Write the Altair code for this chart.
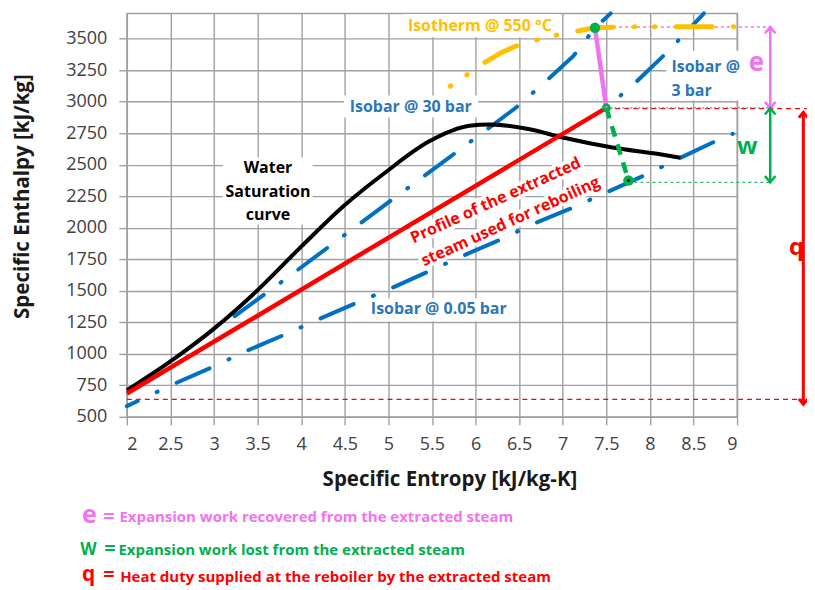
import altair as alt
import pandas as pd

# ---------------- data ----------------
x_ticks = [2, 2.5, 3, 3.5, 4, 4.5, 5, 5.5, 6, 6.5, 7, 7.5, 8, 8.5, 9]
y_ticks = [500, 750, 1000, 1250, 1500, 1750, 2000, 2250, 2500, 2750, 3000, 3250, 3500]

# water saturation curve
sat_s = [2.0, 2.5, 3.0, 3.5, 4.0, 4.5, 4.95, 5.47, 5.93, 6.16, 6.62, 7.0, 7.57, 8.15, 8.35]
sat_h = [711, 940, 1200, 1505, 1850, 2180, 2430, 2685, 2808, 2818, 2781, 2715, 2636, 2578, 2555]

# profile of the extracted steam used for reboiling
prof_s = [2.0, 7.5]
prof_h = [685, 2950]

# isobars
iso30_s = [3.2, 3.9, 4.9, 5.7, 6.45, 6.77, 7.12, 7.37, 7.55]
iso30_h = [1280, 1634, 2150, 2558, 2945, 3138, 3360, 3585, 3700]

iso3_s = [7.5, 7.84, 8.18, 8.62]
iso3_h = [2950, 3155, 3380, 3700]

iso005_s = [2.0, 2.55, 2.97, 3.37, 3.79, 4.19, 4.61, 5.02, 5.44, 5.86, 6.26, 6.66, 7.08, 7.5, 7.92, 8.32, 8.72, 8.95]
iso005_h = [585, 764, 891, 1022, 1146, 1271, 1397, 1516, 1647, 1779, 1898, 2030, 2149, 2280, 2410, 2544, 2676, 2745]

# isotherm 550 C
iso550_s = [5.71, 5.91, 6.10, 6.30, 6.51, 6.73, 6.96, 7.17, 7.37, 7.63, 7.84, 8.09, 8.32, 8.76, 9.0]
iso550_h = [3123, 3216, 3309, 3390, 3454, 3493, 3533, 3560, 3585, 3592, 3593, 3594, 3594, 3594, 3594]

# expansion recovered (e) and lost (w)
exp_s = [7.37, 7.5]
exp_h = [3585, 2950]
lost_s = [7.5, 7.754]
lost_h = [2950, 2375]

# points
pt_top = (7.37, 3585)
pt_mid = (7.5, 2950)
pt_bot = (7.754, 2375)

# reference levels
h_e_top = 3592
h_extr = 2948
h_w_bot = 2360
h_q_bot = 638
s_arrow_ew = 9.38
s_arrow_q = 9.76

# ---------------- styling ----------------
FONT = "Open Sans"
GRID = "#A0A0A0"
BLUE = "#0070C0"
BLUE_TXT = "#2E75B6"
ORANGE = "#FFC000"
PINK = "#F272F2"
GREEN = "#00B050"
RED = "#FF0000"

xs = alt.Scale(domain=[2, 9], nice=False, zero=False)
ys = alt.Scale(domain=[500, 3700], nice=False, zero=False)

x_axis = alt.Axis(values=x_ticks, format="~g", title="Specific Entropy  [kJ/kg-K]",
                  grid=True, gridColor=GRID, gridWidth=1.4, domain=False,
                  ticks=True, tickColor=GRID, tickSize=8, tickWidth=1.4,
                  labelFont=FONT, labelFontSize=18, labelColor="#404040", labelPadding=11,
                  titleFont=FONT, titleFontSize=20.5, titleFontWeight="bold", titleColor="#1a1a1a",
                  titleX=323, titleY=53, titleAlign="center", titleBaseline="top")
y_axis = alt.Axis(values=y_ticks, format="d", title="Specific Enthalpy [kJ/kg]",
                  grid=True, gridColor=GRID, gridWidth=1.4, domain=False,
                  ticks=True, tickColor=GRID, tickSize=8, tickWidth=1.4,
                  labelFont=FONT, labelFontSize=18, labelColor="#404040", labelPadding=12,
                  titleFont=FONT, titleFontSize=20.5, titleFontWeight="bold", titleColor="#1a1a1a",
                  titleX=-104, titleY=183, titleAngle=270, titleAlign="center", titleBaseline="middle")


def X(f):
    return alt.X(f, type="quantitative", scale=xs, axis=x_axis)


def Y(f):
    return alt.Y(f, type="quantitative", scale=ys, axis=y_axis)


def line(s, h, **mk):
    df = pd.DataFrame({"s": s, "h": h})
    return alt.Chart(df).mark_line(**mk).encode(x=X("s"), y=Y("h"))


def hrule(s1, s2, h, **mk):
    df = pd.DataFrame({"s": [s1], "s2": [s2], "h": [h]})
    return alt.Chart(df).mark_rule(**mk).encode(x=X("s"), x2=alt.X2("s2"), y=Y("h"))


def vrule(s, h1, h2, **mk):
    df = pd.DataFrame({"s": [s], "h": [h1], "h2": [h2]})
    return alt.Chart(df).mark_rule(**mk).encode(x=X("s"), y=Y("h"), y2=alt.Y2("h2"))


def points(s, h, **mk):
    df = pd.DataFrame({"s": s, "h": h})
    return alt.Chart(df).mark_point(**mk).encode(x=X("s"), y=Y("h"))


def texts(s, h, labels, **mk):
    df = pd.DataFrame({"s": s, "h": h, "label": labels})
    return alt.Chart(df).mark_text(**mk).encode(x=X("s"), y=Y("h"), text="label:N")


# white label boxes
box_s1 = [5.19, 4.49, 8.19, 4.73, 3.10]
box_s2 = [6.96, 6.03, 9.08, 6.43, 4.13]
box_h1 = [3510, 2874, 3008, 1258, 2026]
box_h2 = [3695, 3048, 3404, 1440, 2557]
boxes = alt.Chart(pd.DataFrame({"s": box_s1, "s2": box_s2, "h": box_h1, "h2": box_h2})).mark_rect(
    color="white").encode(x=X("s"), x2=alt.X2("s2"), y=Y("h"), y2=alt.Y2("h2"))

BLUE_DASH = [36, 21, 1, 21]
UP = "M -1 1.2 L 0 0 L 1 1.2"
DOWN = "M -1 -1.2 L 0 0 L 1 -1.2"
layers = [
    boxes,
    # reference levels
    hrule(pt_top[0], s_arrow_ew, h_e_top, color=PINK, strokeWidth=1.5, strokeDash=[3, 3]),
    hrule(pt_mid[0], 9.8, h_extr - 3, color=RED, strokeWidth=1.2, strokeDash=[5, 4]),
    hrule(pt_mid[0], s_arrow_ew, h_extr + 3, color="#8080A0", strokeWidth=1.2, strokeDash=[2, 2]),
    hrule(pt_bot[0], s_arrow_ew, h_w_bot, color="#33BB66", strokeWidth=1.2, strokeDash=[3, 3]),
    hrule(2, s_arrow_q, h_q_bot, color=RED, strokeWidth=1.2, strokeDash=[5, 4]),
    # isobars / isotherm
    line(iso005_s, iso005_h, color=BLUE, strokeWidth=4, strokeDash=BLUE_DASH, strokeCap="round",
         strokeDashOffset=24),
    line(iso30_s, iso30_h, color=BLUE, strokeWidth=4, strokeDash=BLUE_DASH, strokeCap="round",
         strokeDashOffset=75),
    line(iso3_s, iso3_h, color=BLUE, strokeWidth=4, strokeDash=BLUE_DASH, strokeCap="round",
         strokeDashOffset=38),
    line(iso550_s, iso550_h, color=ORANGE, strokeWidth=5, strokeDash=[0.5, 19.5, 0.5, 21.5, 36, 21],
         strokeCap="round"),
    # saturation curve and profile
    line(sat_s, sat_h, color="black", strokeWidth=4, interpolate="monotone"),
    line(prof_s, prof_h, color=RED, strokeWidth=4.5),
    line(exp_s, exp_h, color=PINK, strokeWidth=4.5),
    line(lost_s, lost_h, color=GREEN, strokeWidth=4.5, strokeDash=[11, 8]),
    # markers
    points([pt_top[0], pt_bot[0]], [pt_top[1], pt_bot[1]], shape="circle", filled=True,
           color=GREEN, size=110, opacity=1),
    points([pt_mid[0]], [pt_mid[1]], shape="circle", filled=False, color=GREEN, size=40,
           strokeWidth=2.5, opacity=1),
    points([pt_bot[0]], [pt_bot[1]], shape="circle", filled=True, color="black", size=9, opacity=1),
    # arrows
    vrule(s_arrow_ew, h_e_top, h_extr, color=PINK, strokeWidth=2.5),
    vrule(s_arrow_ew, h_extr, h_w_bot, color=GREEN, strokeWidth=2.5),
    vrule(s_arrow_q, 2915, 600, color=RED, strokeWidth=3),
    points([s_arrow_ew], [h_e_top], shape=UP, filled=False, color=PINK,
           size=110, strokeWidth=2.5, opacity=1),
    points([s_arrow_ew], [h_extr], shape=DOWN, filled=False, color=PINK,
           size=110, strokeWidth=2.5, opacity=1),
    points([s_arrow_ew], [h_extr], shape=UP, filled=False, color=GREEN,
           size=110, strokeWidth=2.5, opacity=1),
    points([s_arrow_ew], [h_w_bot], shape=DOWN, filled=False, color=GREEN,
           size=110, strokeWidth=2.5, opacity=1),
    points([s_arrow_q], [2915], shape=UP, filled=False, color=RED,
           size=80, strokeWidth=3, opacity=1),
    points([s_arrow_q], [600], shape=DOWN, filled=False, color=RED,
           size=80, strokeWidth=3, opacity=1),
    # labels
    texts([6.05], [3603], ["Isotherm @ 550 °C"], font=FONT, fontSize=16, fontWeight="bold",
          color=ORANGE, align="center", baseline="middle"),
    texts([5.257], [2961], ["Isobar @ 30 bar"], font=FONT, fontSize=16, fontWeight="bold",
          color=BLUE_TXT, align="center", baseline="middle"),
    texts([8.247, 8.247], [3272, 3088], ["Isobar @", "3 bar"], font=FONT, fontSize=16,
          fontWeight="bold", color=BLUE_TXT, align="left", baseline="middle"),
    texts([5.578], [1353], ["Isobar @ 0.05 bar"], font=FONT, fontSize=16, fontWeight="bold",
          color=BLUE_TXT, align="center", baseline="middle"),
    texts([3.619, 3.619, 3.619], [2470, 2280, 2098], ["Water", "Saturation", "curve"], font=FONT,
          fontSize=16, fontWeight="bold", color="black", align="center", baseline="middle"),
    texts([6.231, 6.402], [2216, 2050], ["Profile of the extracted", "steam used for reboiling"],
          font=FONT, fontSize=16, fontWeight="bold", color="white", stroke="white", strokeWidth=7,
          angle=335.5, align="center", baseline="middle"),
    texts([6.231, 6.402], [2216, 2050], ["Profile of the extracted", "steam used for reboiling"],
          font=FONT, fontSize=16, fontWeight="bold", color=RED, angle=335.5, align="center",
          baseline="middle"),
    texts([9.221], [3310], ["e"], font=FONT, fontSize=26, fontWeight="bold", color=PINK,
          align="center", baseline="middle"),
    texts([9.118], [2639], ["w"], font=FONT, fontSize=24, fontWeight="bold", color=GREEN,
          align="center", baseline="middle"),
    texts([9.681], [1836], ["q"], font=FONT, fontSize=24, fontWeight="bold", color=RED,
          align="center", baseline="middle"),
    # bottom legend
    texts([1.4845], [-344], ["e"], font=FONT, fontSize=25, fontWeight="bold", color=PINK,
          align="left", baseline="alphabetic"),
    texts([1.7285], [-340], ["="], font=FONT, fontSize=20, fontWeight="bold", color=PINK,
          align="left", baseline="alphabetic"),
    texts([1.915], [-336], ["Expansion work recovered  from the extracted steam"], font=FONT,
          fontSize=15, fontWeight="bold", color=PINK, align="left", baseline="alphabetic"),
    texts([1.465], [-592], ["W"], font=FONT, fontSize=17, fontWeight="bold", color=GREEN,
          align="left", baseline="alphabetic"),
    texts([1.74], [-592], ["="], font=FONT, fontSize=20, fontWeight="bold", color=GREEN,
          align="left", baseline="alphabetic"),
    texts([1.904], [-594], ["Expansion work lost from  the extracted steam"], font=FONT,
          fontSize=15, fontWeight="bold", color=GREEN, align="left", baseline="alphabetic"),
    texts([1.4845], [-798], ["q"], font=FONT, fontSize=21, fontWeight="bold", color=RED,
          align="left", baseline="alphabetic"),
    texts([1.7285], [-805], ["="], font=FONT, fontSize=20, fontWeight="bold", color=RED,
          align="left", baseline="alphabetic"),
    texts([1.923], [-808], ["Heat duty supplied at the reboiler by the extracted steam"], font=FONT,
          fontSize=15, fontWeight="bold", color=RED, align="left", baseline="alphabetic"),
]

chart = alt.layer(*layers).properties(
    width=611, height=404,
    autosize=alt.AutoSizeParams(type="none"),
    padding={"left": 119, "top": 5, "right": 70, "bottom": 171},
    background="white",
).configure_view(stroke=GRID, strokeWidth=1.4)

chart.save("out.html", embed_options={"renderer": "svg", "actions": False})
